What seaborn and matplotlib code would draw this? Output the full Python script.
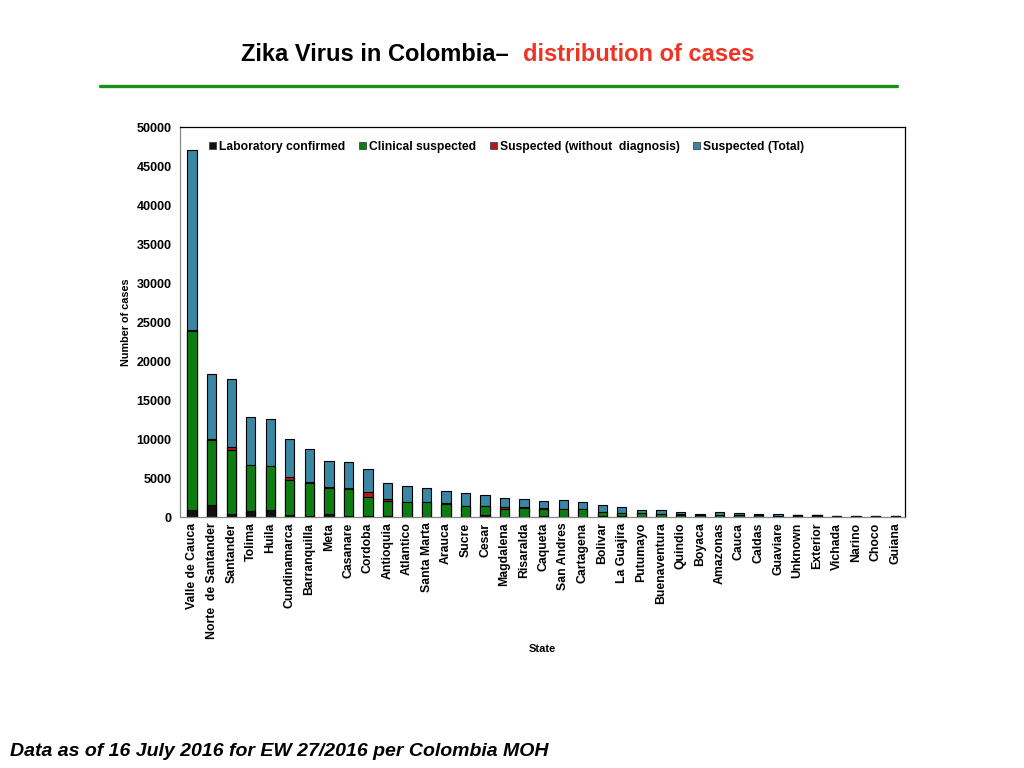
import numpy as np
import pandas as pd
import seaborn as sns
import matplotlib.pyplot as plt
from matplotlib.patches import Patch

states = ['Valle de Cauca', 'Norte  de Santander', 'Santander', 'Tolima', 'Huila',
          'Cundinamarca', 'Barranquilla', 'Meta', 'Casanare', 'Cordoba', 'Antioquia',
          'Atlantico', 'Santa Marta', 'Arauca', 'Sucre', 'Cesar', 'Magdalena',
          'Risaralda', 'Caqueta', 'San Andres', 'Cartagena', 'Bolivar', 'La Guajira',
          'Putumayo', 'Buenaventura', 'Quindio', 'Boyaca', 'Amazonas', 'Cauca',
          'Caldas', 'Guaviare', 'Unknown', 'Exterior', 'Vichada', 'Narino', 'Choco',
          'Guiana']
lab_confirmed = [900, 1500, 350, 800, 900, 200, 100, 450, 100, 100, 100, 50, 30, 50,
                 50, 200, 50, 30, 150, 20, 30, 100, 100, 20, 20, 20, 20, 20, 20, 50,
                 20, 250, 240, 30, 60, 50, 80]
clinical = [23000, 8400, 8300, 5850, 5600, 4600, 4300, 3300, 3550, 2500, 1950, 1850,
            1850, 1680, 1380, 1180, 980, 1190, 940, 1000, 990, 530, 440, 440, 400,
            300, 200, 280, 200, 150, 130, 0, 0, 50, 30, 30, 0]
no_diagnosis = [100, 100, 350, 50, 50, 280, 50, 50, 30, 560, 250, 60, 20, 20, 20, 30,
                200, 20, 20, 10, 10, 10, 10, 10, 10, 10, 10, 10, 10, 10, 10, 0, 0, 0,
                0, 0, 0]
suspected_total = [23100, 8400, 8650, 6080, 5970, 4880, 4230, 3340, 3330, 2950, 2020,
                   1970, 1780, 1580, 1590, 1370, 1170, 1030, 900, 1110, 850, 860, 690,
                   390, 430, 270, 220, 290, 240, 130, 180, 0, 10, 50, 30, 40, 20]

series = ['Laboratory confirmed', 'Clinical suspected', 'Suspected (without  diagnosis)',
          'Suspected (Total)']
colors = ['#111111', '#0d7d12', '#b3191c', '#3a87a4']

df = pd.DataFrame({'State': states, series[0]: lab_confirmed, series[1]: clinical,
                   series[2]: no_diagnosis, series[3]: suspected_total})
cum = df[series].cumsum(axis=1)

sns.set_style('white')
plt.rcParams['font.family'] = ['Liberation Sans', 'DejaVu Sans']
plt.rcParams['font.weight'] = 'bold'
plt.rcParams['text.color'] = 'black'
plt.rcParams['axes.labelcolor'] = 'black'

fig = plt.figure(figsize=(10.24, 7.68), dpi=100)
ax = fig.add_axes([0.1758, 0.3268, 0.708, 0.5078])

# draw from the tallest stack down so the segments look stacked
for s, c in zip(series[::-1], colors[::-1]):
    sns.barplot(x=df['State'], y=cum[s], color=c, width=0.48, edgecolor='black',
                linewidth=0.8, saturation=1, ax=ax, errorbar=None)

ax.set_ylim(0, 50000)
ax.set_xlim(-0.62, len(states) - 0.54)
ax.set_yticks(range(0, 50001, 5000))
ax.tick_params(axis='y', direction='out', length=4, color='#888888', labelcolor='black',
               labelsize=9, pad=2)
ax.set_xticks(np.arange(len(states)) + 0.5, minor=True)
ax.tick_params(axis='x', which='major', length=0, labelsize=8.8, pad=4, labelrotation=90,
               labelcolor='black')
ax.tick_params(axis='x', which='minor', direction='out', length=4, color='#888888')
for lbl in ax.get_xticklabels() + ax.get_yticklabels():
    lbl.set_fontweight('bold')
for lbl in ax.get_xticklabels():
    lbl.set_va('top')

for side in ['left', 'bottom']:
    ax.spines[side].set_color('#888888')
for side in ['top', 'right']:
    ax.spines[side].set_color('black')
for sp in ax.spines.values():
    sp.set_visible(True)
    sp.set_linewidth(0.9)

ax.set_ylabel('Number of cases', fontsize=7.8, fontweight='bold', labelpad=4)
ax.set_xlabel('State', fontsize=8, fontweight='bold')
ax.xaxis.set_label_coords(0.5, -0.325)

handles = [Patch(facecolor=c, edgecolor='#444444', linewidth=0.6) for c in colors]
ax.legend(handles, series, loc='upper left', ncol=4, frameon=False,
          handlelength=0.6, handleheight=0.6, handletextpad=0.25, columnspacing=1.1,
          bbox_to_anchor=(0.025, 0.993), prop={'weight': 'bold', 'size': 8.7})

fig.text(0.497, 0.929, 'Zika Virus in Colombia\u2013', ha='right', va='center',
         fontsize=17, fontweight='bold', color='black')
fig.text(0.511, 0.929, 'distribution of cases', ha='left', va='center',
         fontsize=17, fontweight='bold', color='#ee3424')
fig.add_artist(plt.Line2D([0.098, 0.876], [0.888, 0.888], color='#1a8f1a',
                          linewidth=2.4))
fig.text(0.01, 0.021, 'Data as of 16 July 2016 for EW 27/2016 per Colombia MOH',
         ha='left', va='center', fontsize=14, fontweight='bold', style='italic')

fig.savefig('out.png', dpi=100)
